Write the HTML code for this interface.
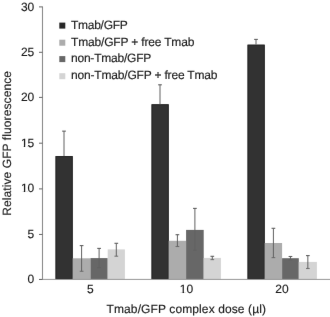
<!DOCTYPE html>
<html><head><meta charset="utf-8"><style>
html,body{margin:0;padding:0;background:#fff;width:330px;height:317px;overflow:hidden}
svg{display:block;filter:grayscale(1)}
.t{font-family:"Liberation Sans",sans-serif;font-size:12px;fill:#1c1c1c;stroke:#1c1c1c;stroke-width:0.15px;text-rendering:geometricPrecision}
</style></head><body>
<svg width="330" height="317" viewBox="0 0 330 317">
<defs><filter id="soft" x="0" y="0" width="330" height="317" filterUnits="userSpaceOnUse" color-interpolation-filters="sRGB"><feConvolveMatrix order="3" edgeMode="duplicate" kernelMatrix="0.00163 0.03713 0.00163 0.03713 0.84497 0.03713 0.00163 0.03713 0.00163"/></filter></defs>
<g filter="url(#soft)">
<rect x="0" y="0" width="330" height="317" fill="#fff"/>
<rect x="55.55" y="156.10" width="17.15" height="123.40" fill="#323232"/>
<rect x="56.05" y="156.60" width="16.15" height="121.90" fill="none" stroke="#262626" stroke-width="1"/>
<rect x="72.70" y="258.30" width="17.80" height="21.20" fill="#acacac"/>
<rect x="90.50" y="258.10" width="17.20" height="21.40" fill="#676767"/>
<rect x="107.70" y="249.40" width="17.20" height="30.10" fill="#d4d4d4"/>
<rect x="151.55" y="104.30" width="17.15" height="175.20" fill="#323232"/>
<rect x="152.05" y="104.80" width="16.15" height="173.70" fill="none" stroke="#262626" stroke-width="1"/>
<rect x="168.70" y="240.80" width="17.40" height="38.70" fill="#acacac"/>
<rect x="186.10" y="229.90" width="17.60" height="49.60" fill="#676767"/>
<rect x="203.70" y="257.90" width="17.20" height="21.60" fill="#d4d4d4"/>
<rect x="247.55" y="44.70" width="17.15" height="234.80" fill="#323232"/>
<rect x="248.05" y="45.20" width="16.15" height="233.30" fill="none" stroke="#262626" stroke-width="1"/>
<rect x="264.70" y="243.00" width="17.40" height="36.50" fill="#acacac"/>
<rect x="282.10" y="258.20" width="16.70" height="21.30" fill="#676767"/>
<rect x="298.80" y="261.90" width="18.10" height="17.60" fill="#d4d4d4"/>
<line x1="64.00" y1="131.15" x2="64.00" y2="156.10" stroke="#626262" stroke-opacity="1.0" stroke-width="1"/>
<line x1="62.15" y1="131.15" x2="65.85" y2="131.15" stroke="#606060" stroke-width="1.1"/>
<line x1="81.60" y1="245.60" x2="81.60" y2="271.30" stroke="#626262" stroke-opacity="1.0" stroke-width="1"/>
<line x1="79.75" y1="245.60" x2="83.45" y2="245.60" stroke="#606060" stroke-width="1.1"/>
<line x1="79.75" y1="271.30" x2="83.45" y2="271.30" stroke="#606060" stroke-opacity="0.8" stroke-width="1.1"/>
<line x1="99.10" y1="248.40" x2="99.10" y2="267.60" stroke="#626262" stroke-opacity="1.0" stroke-width="1"/>
<line x1="97.25" y1="248.40" x2="100.95" y2="248.40" stroke="#606060" stroke-width="1.1"/>
<line x1="97.25" y1="267.60" x2="100.95" y2="267.60" stroke="#606060" stroke-opacity="0.8" stroke-width="1.1"/>
<line x1="116.30" y1="243.30" x2="116.30" y2="256.20" stroke="#626262" stroke-opacity="1.0" stroke-width="1"/>
<line x1="114.45" y1="243.30" x2="118.15" y2="243.30" stroke="#606060" stroke-width="1.1"/>
<line x1="114.45" y1="256.20" x2="118.15" y2="256.20" stroke="#606060" stroke-opacity="0.8" stroke-width="1.1"/>
<line x1="160.00" y1="84.80" x2="160.00" y2="104.30" stroke="#626262" stroke-opacity="1.0" stroke-width="1"/>
<line x1="158.15" y1="84.80" x2="161.85" y2="84.80" stroke="#606060" stroke-width="1.1"/>
<line x1="177.40" y1="234.70" x2="177.40" y2="246.50" stroke="#626262" stroke-opacity="1.0" stroke-width="1"/>
<line x1="175.55" y1="234.70" x2="179.25" y2="234.70" stroke="#606060" stroke-width="1.1"/>
<line x1="175.55" y1="246.50" x2="179.25" y2="246.50" stroke="#606060" stroke-opacity="0.8" stroke-width="1.1"/>
<line x1="194.90" y1="208.40" x2="194.90" y2="250.30" stroke="#626262" stroke-opacity="1.0" stroke-width="1"/>
<line x1="193.05" y1="208.40" x2="196.75" y2="208.40" stroke="#606060" stroke-width="1.1"/>
<line x1="193.05" y1="250.30" x2="196.75" y2="250.30" stroke="#606060" stroke-opacity="0.8" stroke-width="1.1"/>
<line x1="212.30" y1="256.30" x2="212.30" y2="259.60" stroke="#626262" stroke-opacity="1.0" stroke-width="1"/>
<line x1="210.45" y1="256.30" x2="214.15" y2="256.30" stroke="#606060" stroke-width="1.1"/>
<line x1="210.45" y1="259.60" x2="214.15" y2="259.60" stroke="#606060" stroke-opacity="0.8" stroke-width="1.1"/>
<line x1="256.00" y1="39.40" x2="256.00" y2="44.70" stroke="#626262" stroke-opacity="1.0" stroke-width="1"/>
<line x1="254.15" y1="39.40" x2="257.85" y2="39.40" stroke="#606060" stroke-width="1.1"/>
<line x1="273.40" y1="228.30" x2="273.40" y2="257.60" stroke="#626262" stroke-opacity="1.0" stroke-width="1"/>
<line x1="271.55" y1="228.30" x2="275.25" y2="228.30" stroke="#606060" stroke-width="1.1"/>
<line x1="271.55" y1="257.60" x2="275.25" y2="257.60" stroke="#606060" stroke-opacity="0.8" stroke-width="1.1"/>
<line x1="290.45" y1="256.50" x2="290.45" y2="259.90" stroke="#626262" stroke-opacity="1.0" stroke-width="1"/>
<line x1="288.60" y1="256.50" x2="292.30" y2="256.50" stroke="#606060" stroke-width="1.1"/>
<line x1="288.60" y1="259.90" x2="292.30" y2="259.90" stroke="#606060" stroke-opacity="0.8" stroke-width="1.1"/>
<line x1="307.85" y1="255.60" x2="307.85" y2="268.50" stroke="#626262" stroke-opacity="1.0" stroke-width="1"/>
<line x1="306.00" y1="255.60" x2="309.70" y2="255.60" stroke="#606060" stroke-width="1.1"/>
<line x1="306.00" y1="268.50" x2="309.70" y2="268.50" stroke="#606060" stroke-opacity="0.8" stroke-width="1.1"/>
<line x1="42.5" y1="6.4" x2="42.5" y2="279.5" stroke="#8c8c8c" stroke-width="1.1"/>
<line x1="39" y1="279.4" x2="330" y2="279.4" stroke="#989898" stroke-width="1"/>
<line x1="39" y1="279.50" x2="42.5" y2="279.50" stroke="#666666" stroke-width="1"/>
<text x="34.3" y="283.10" text-anchor="end" class="t">0</text>
<line x1="39" y1="234.45" x2="42.5" y2="234.45" stroke="#666666" stroke-width="1"/>
<text x="34.3" y="237.66" text-anchor="end" class="t">5</text>
<line x1="39" y1="188.90" x2="42.5" y2="188.90" stroke="#666666" stroke-width="1"/>
<text x="34.3" y="192.23" text-anchor="end" class="t">10</text>
<line x1="39" y1="143.20" x2="42.5" y2="143.20" stroke="#666666" stroke-width="1"/>
<text x="34.3" y="146.79" text-anchor="end" class="t">15</text>
<line x1="39" y1="97.40" x2="42.5" y2="97.40" stroke="#666666" stroke-width="1"/>
<text x="34.3" y="101.36" text-anchor="end" class="t">20</text>
<line x1="39" y1="52.30" x2="42.5" y2="52.30" stroke="#666666" stroke-width="1"/>
<text x="34.3" y="55.93" text-anchor="end" class="t">25</text>
<line x1="39" y1="6.90" x2="42.5" y2="6.90" stroke="#666666" stroke-width="1"/>
<text x="34.3" y="10.49" text-anchor="end" class="t">30</text>
<text x="90.3" y="293.3" text-anchor="middle" class="t">5</text>
<text x="186.4" y="293.3" text-anchor="middle" class="t">10</text>
<text x="281.9" y="293.3" text-anchor="middle" class="t">20</text>
<text x="186.25" y="312.8" text-anchor="middle" textLength="159.4" class="t">Tmab/GFP complex dose (µl)</text>
<text transform="translate(10.7,143.45) rotate(-90)" text-anchor="middle" textLength="144.8" class="t">Relative GFP fluorescence</text>
<rect x="59.3" y="22.60" width="6" height="6" fill="#272727"/>
<text x="71.0" y="28.60" textLength="56.8" class="t">Tmab/GFP</text>
<rect x="59.3" y="39.70" width="6" height="6" fill="#acacac"/>
<text x="71.0" y="45.70" textLength="123.35" class="t">Tmab/GFP + free Tmab</text>
<rect x="59.3" y="56.10" width="6" height="6" fill="#676767"/>
<text x="71.0" y="62.10" textLength="80.3" class="t">non-Tmab/GFP</text>
<rect x="59.3" y="73.20" width="6" height="6" fill="#d4d4d4"/>
<text x="71.0" y="79.20" textLength="146.5" class="t">non-Tmab/GFP + free Tmab</text>
<rect x="20.54" y="191.08" width="3.25" height="2.6" fill="#fff"/>
<rect x="25.19" y="191.08" width="2.30" height="2.6" fill="#fff"/>
<rect x="20.54" y="145.64" width="3.25" height="2.6" fill="#fff"/>
<rect x="25.19" y="145.64" width="2.30" height="2.6" fill="#fff"/>
<rect x="179.32" y="292.15" width="3.25" height="2.6" fill="#fff"/>
<rect x="183.97" y="292.15" width="2.30" height="2.6" fill="#fff"/>
</g>
</svg>
</body></html>
